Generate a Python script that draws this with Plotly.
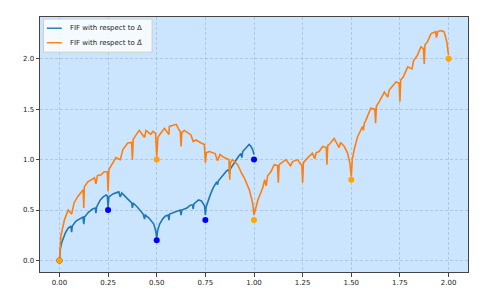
import plotly.graph_objects as go

# Blue FIF (with respect to Delta)
blue_x = [0.000, 0.005, 0.012, 0.020, 0.030, 0.045, 0.059, 0.0625, 0.066, 0.085, 0.100, 0.115, 0.121, 0.125, 0.129, 0.150, 0.170, 0.184, 0.1875, 0.191, 0.210, 0.225, 0.240, 0.246, 0.250, 0.254, 0.275, 0.290, 0.305, 0.3125, 0.320, 0.335, 0.350, 0.365, 0.371, 0.375, 0.379, 0.400, 0.415, 0.430, 0.4375, 0.441, 0.460, 0.475, 0.485, 0.495, 0.500, 0.505, 0.515, 0.530, 0.545, 0.559, 0.5625, 0.566, 0.590, 0.605, 0.621, 0.625, 0.629, 0.655, 0.675, 0.684, 0.6875, 0.691, 0.715, 0.730, 0.742, 0.746, 0.750, 0.754, 0.775, 0.790, 0.808, 0.8125, 0.817, 0.845, 0.860, 0.871, 0.875, 0.879, 0.905, 0.920, 0.933, 0.9375, 0.942, 0.965, 0.975, 0.985, 0.993, 1.000]
blue_y = [0.00, 0.12, 0.18, 0.22, 0.27, 0.32, 0.34, 0.28, 0.34, 0.39, 0.41, 0.43, 0.43, 0.36, 0.43, 0.48, 0.51, 0.52, 0.47, 0.53, 0.60, 0.63, 0.65, 0.64, 0.53, 0.63, 0.66, 0.67, 0.68, 0.63, 0.67, 0.64, 0.61, 0.58, 0.57, 0.52, 0.57, 0.53, 0.49, 0.46, 0.41, 0.45, 0.42, 0.39, 0.36, 0.29, 0.22, 0.30, 0.36, 0.41, 0.44, 0.45, 0.40, 0.46, 0.48, 0.49, 0.50, 0.45, 0.50, 0.52, 0.55, 0.55, 0.51, 0.56, 0.60, 0.59, 0.56, 0.54, 0.45, 0.53, 0.65, 0.72, 0.78, 0.75, 0.79, 0.86, 0.89, 0.90, 0.86, 0.91, 0.99, 1.03, 1.06, 1.02, 1.08, 1.13, 1.15, 1.13, 1.10, 1.05]

# Orange FIF (with respect to Delta tilde)
orange_x = [0.000, 0.008, 0.026, 0.045, 0.0625, 0.075, 0.0945, 0.115, 0.122, 0.125, 0.128, 0.146, 0.180, 0.1875, 0.195, 0.214, 0.230, 0.246, 0.250, 0.254, 0.270, 0.290, 0.3125, 0.326, 0.351, 0.371, 0.375, 0.379, 0.394, 0.410, 0.4375, 0.445, 0.469, 0.480, 0.494, 0.500, 0.506, 0.514, 0.540, 0.5625, 0.565, 0.600, 0.616, 0.621, 0.625, 0.629, 0.642, 0.676, 0.6875, 0.702, 0.728, 0.745, 0.750, 0.755, 0.770, 0.800, 0.8125, 0.825, 0.847, 0.871, 0.875, 0.879, 0.890, 0.916, 0.9375, 0.950, 0.976, 0.993, 1.000, 1.020, 1.045, 1.055, 1.0625, 1.070, 1.087, 1.104, 1.121, 1.125, 1.129, 1.139, 1.164, 1.1875, 1.199, 1.224, 1.241, 1.246, 1.250, 1.254, 1.267, 1.300, 1.3125, 1.320, 1.335, 1.353, 1.371, 1.375, 1.379, 1.387, 1.412, 1.4375, 1.445, 1.464, 1.481, 1.493, 1.500, 1.505, 1.515, 1.533, 1.558, 1.5625, 1.567, 1.575, 1.600, 1.621, 1.625, 1.629, 1.644, 1.670, 1.6875, 1.695, 1.730, 1.746, 1.750, 1.754, 1.767, 1.790, 1.8125, 1.820, 1.840, 1.858, 1.871, 1.875, 1.879, 1.892, 1.910, 1.934, 1.9375, 1.945, 1.960, 1.977, 1.991, 2.000]
orange_y = [0.00, 0.25, 0.405, 0.50, 0.46, 0.57, 0.635, 0.69, 0.70, 0.52, 0.73, 0.78, 0.82, 0.76, 0.84, 0.85, 0.88, 0.88, 0.685, 0.90, 0.96, 1.02, 1.00, 1.10, 1.165, 1.17, 1.00, 1.20, 1.245, 1.29, 1.22, 1.29, 1.25, 1.28, 1.26, 1.03, 1.22, 1.245, 1.31, 1.25, 1.33, 1.35, 1.29, 1.28, 1.13, 1.27, 1.29, 1.245, 1.18, 1.195, 1.165, 1.15, 0.97, 1.07, 1.08, 1.06, 0.99, 1.05, 1.02, 1.00, 0.80, 0.97, 1.00, 0.95, 0.86, 0.82, 0.70, 0.57, 0.45, 0.60, 0.72, 0.80, 0.74, 0.84, 0.88, 0.95, 0.94, 0.77, 0.95, 0.965, 1.00, 0.94, 0.98, 1.00, 0.95, 0.94, 0.77, 0.97, 1.00, 1.065, 1.01, 1.07, 1.08, 1.13, 1.12, 0.95, 1.14, 1.15, 1.21, 1.12, 1.17, 1.13, 1.065, 0.965, 0.83, 1.00, 1.10, 1.23, 1.33, 1.29, 1.36, 1.39, 1.51, 1.50, 1.36, 1.53, 1.575, 1.67, 1.62, 1.69, 1.77, 1.76, 1.575, 1.79, 1.82, 1.92, 1.90, 1.98, 2.035, 2.12, 2.10, 1.95, 2.14, 2.17, 2.25, 2.27, 2.21, 2.27, 2.28, 2.27, 2.17, 2.035]

# Interpolation points
blue_pts_x = [0.0, 0.25, 0.5, 0.75, 1.0]
blue_pts_y = [0.0, 0.5, 0.2, 0.4, 1.0]
orange_pts_x = [0.0, 0.5, 1.0, 1.5, 2.0]
orange_pts_y = [0.0, 1.0, 0.4, 0.8, 2.0]

legend_labels = ["FIF with respect to Δ", "FIF with respect to Δ\u0303"]
x_ticks = [0.0, 0.25, 0.5, 0.75, 1.0, 1.25, 1.5, 1.75, 2.0]
y_ticks = [0.0, 0.5, 1.0, 1.5, 2.0]

assert len(blue_x) == len(blue_y), (len(blue_x), len(blue_y))
assert len(orange_x) == len(orange_y), (len(orange_x), len(orange_y))

BLUE = "#1f77b4"
ORANGE = "#ff7f0e"
FONT = "DejaVu Sans"

fig = go.Figure()
fig.add_trace(go.Scatter(x=blue_x, y=blue_y, mode="lines",
                         line=dict(color=BLUE, width=1.6), showlegend=False))
fig.add_trace(go.Scatter(x=orange_x, y=orange_y, mode="lines",
                         line=dict(color=ORANGE, width=1.6), showlegend=False))
fig.add_trace(go.Scatter(x=blue_pts_x, y=blue_pts_y, mode="markers",
                         marker=dict(color="#0000ff", size=6), showlegend=False))
fig.add_trace(go.Scatter(x=orange_pts_x, y=orange_pts_y, mode="markers",
                         marker=dict(color="#ffa500", size=6), showlegend=False))

# manual legend (matplotlib style)
fig.add_shape(type="rect", xref="paper", yref="paper", x0=0.008, x1=0.262, y0=0.862, y1=0.992,
              fillcolor="rgba(255,255,255,0.8)", line=dict(color="#cccccc", width=1), layer="above")
for yy, col, lab in [(0.956, BLUE, legend_labels[0]), (0.899, ORANGE, legend_labels[1])]:
    fig.add_shape(type="line", xref="paper", yref="paper", x0=0.016, x1=0.051, y0=yy, y1=yy,
                  line=dict(color=col, width=1.4), layer="above")
    fig.add_annotation(xref="paper", yref="paper", x=0.066, y=yy, text=lab, showarrow=False,
                       xanchor="left", yanchor="middle", font=dict(family=FONT, size=7, color="#222"))

axis_common = dict(showline=True, linecolor="#444", linewidth=1, mirror=True,
                   ticks="outside", ticklen=3.5, tickcolor="#444", tickwidth=1,
                   tickfont=dict(family=FONT, size=7, color="#222"),
                   showgrid=True, gridcolor="rgba(150,175,210,0.55)", griddash="3px,2px", gridwidth=0.6,
                   zeroline=False, automargin=False)

fig.update_xaxes(range=[-0.1, 2.1], tickvals=x_ticks, ticktext=[f"{v:.2f}" for v in x_ticks], **axis_common)
fig.update_yaxes(range=[-0.115, 2.415], tickvals=y_ticks, ticktext=[f"{v:.1f}" for v in y_ticks], **axis_common)

# page body has an 8px default margin, so the figure is sized to fit the remaining window
fig.update_layout(width=482, height=287,
                  margin=dict(l=32, r=22, t=9, b=23),
                  paper_bgcolor="white", plot_bgcolor="#cce5ff",
                  font=dict(family=FONT, size=7))

fig.write_html("out.html")
